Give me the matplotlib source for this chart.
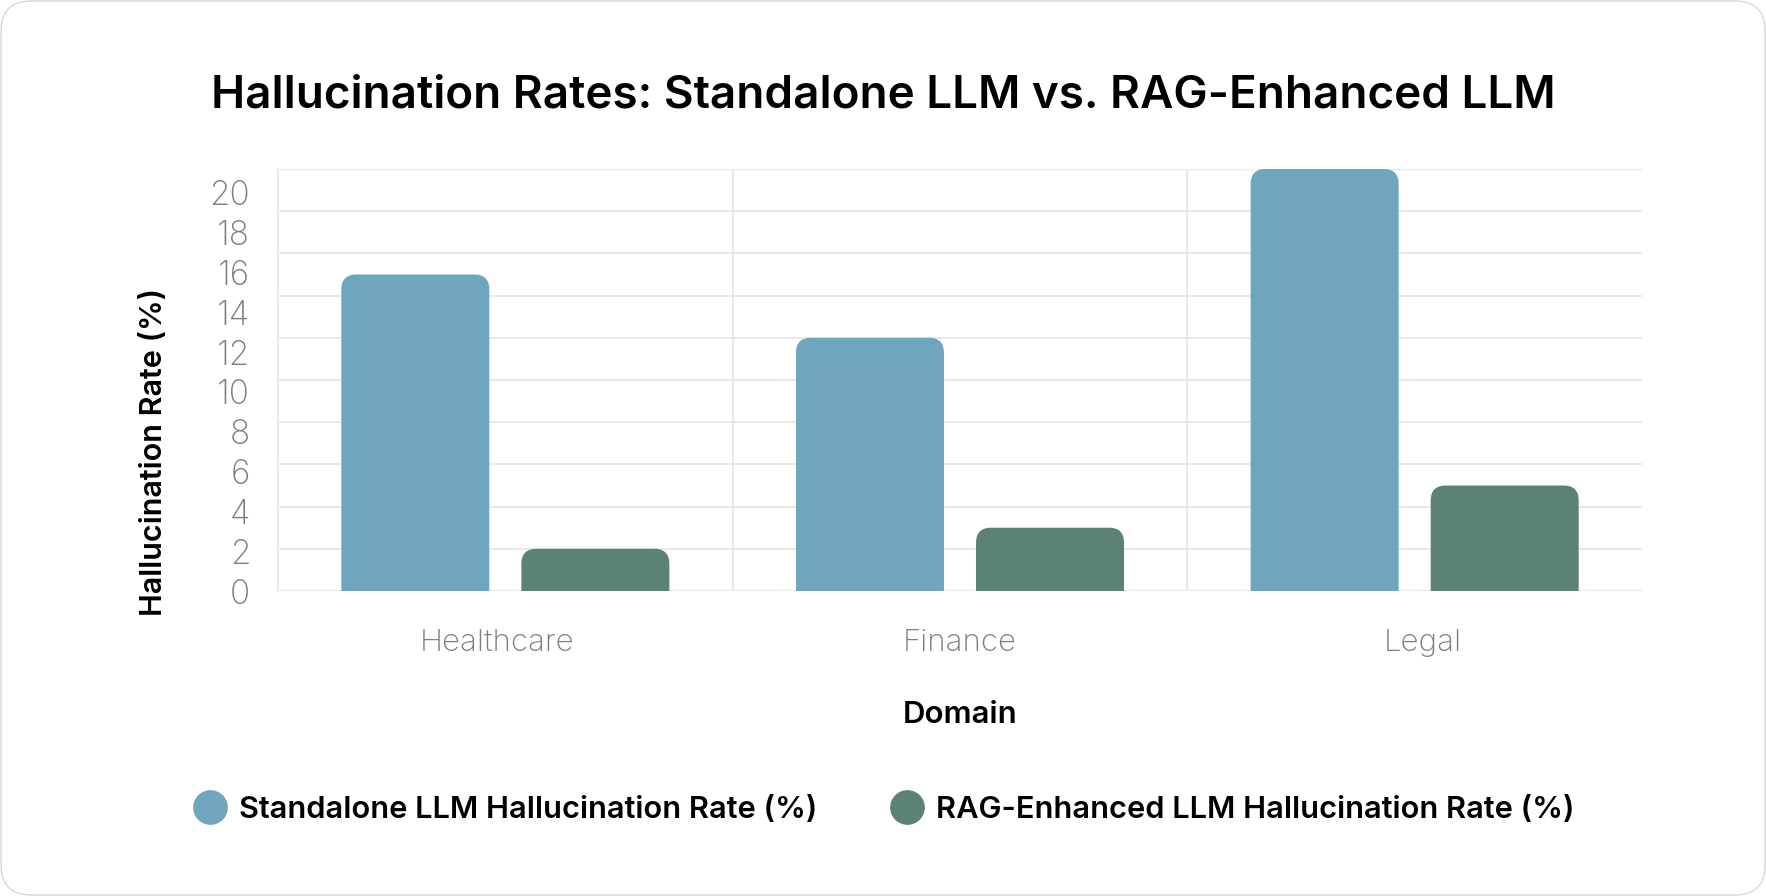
import matplotlib
matplotlib.use("Agg")
import matplotlib.pyplot as plt
import numpy as np
from matplotlib.patches import FancyBboxPatch, PathPatch
from matplotlib.path import Path

# data
domains = ["Healthcare", "Finance", "Legal"]
standalone = [15, 12, 20]
rag = [2, 3, 5]
series_names = ["Standalone LLM Hallucination Rate (%)", "RAG-Enhanced LLM Hallucination Rate (%)"]
y_ticks = [0, 2, 4, 6, 8, 10, 12, 14, 16, 18, 20]

BLUE = "#6FA5BD"
GREEN = "#5C8275"
GRID = "#E9E9E9"
TICK = "#7E7E7E"

plt.rcParams["font.family"] = ["Inter", "DejaVu Sans"]

W, H, DPI = 1766, 896, 100
fig = plt.figure(figsize=(W / DPI, H / DPI), dpi=DPI)
fig.patch.set_facecolor("white")

# rounded card border
fig.patches.append(FancyBboxPatch((1, 1), W - 2, H - 2, boxstyle="round,pad=0,rounding_size=30",
                                  transform=None, facecolor="white", edgecolor="#D8D8D8",
                                  linewidth=1, zorder=-10))

rect = [278 / W, 1 - 591 / H, (1642 - 278) / W, (591 - 169) / H]
ax = fig.add_axes(rect)
ax.set_facecolor("white")

x = np.arange(len(domains))
offset, width = 0.198, 0.3255
b1 = ax.bar(x - offset, standalone, width, color=BLUE, zorder=3)
b2 = ax.bar(x + offset, rag, width, color=GREEN, zorder=3)

ax.set_xlim(-0.5, len(domains) - 0.5)
ax.set_ylim(0, 20)


def round_top(rect, color, r_px=15):
    # swap the plain rectangle for one with rounded top corners
    x0, y0 = rect.get_x(), rect.get_y()
    x1, y1 = x0 + rect.get_width(), y0 + rect.get_height()
    bbox = ax.get_window_extent()
    rx = r_px * (ax.get_xlim()[1] - ax.get_xlim()[0]) / bbox.width
    ry = r_px * (ax.get_ylim()[1] - ax.get_ylim()[0]) / bbox.height
    verts = [(x0, y0), (x0, y1 - ry), (x0, y1), (x0 + rx, y1), (x1 - rx, y1),
             (x1, y1), (x1, y1 - ry), (x1, y0), (x0, y0)]
    codes = [Path.MOVETO, Path.LINETO, Path.CURVE3, Path.CURVE3, Path.LINETO,
             Path.CURVE3, Path.CURVE3, Path.LINETO, Path.CLOSEPOLY]
    rect.set_visible(False)
    ax.add_patch(PathPatch(Path(verts, codes), facecolor=color, edgecolor="none", zorder=3))


for bars, c in ((b1, BLUE), (b2, GREEN)):
    for r in bars:
        round_top(r, c)

# grid
ax.set_yticks(y_ticks)
ax.set_xticks(x)
ax.set_xticks(x[:-1] + 0.5, minor=True)
ax.grid(axis="y", color=GRID, linewidth=1.5, zorder=0)
ax.grid(axis="x", which="minor", color=GRID, linewidth=1.5, zorder=0)
for s in ("top", "right", "bottom"):
    ax.spines[s].set_visible(False)
ax.spines["left"].set_color(GRID)
ax.spines["left"].set_linewidth(1.5)
ax.axhline(20, color=GRID, linewidth=1.5, zorder=0)
ax.axhline(0, color=GRID, linewidth=1.5, zorder=0)
ax.tick_params(axis="both", which="both", length=0, labelleft=False, labelbottom=False)

# tick labels sit on their own overlay: in the original they are spaced a bit
# differently from the gridlines
lab = fig.add_axes(rect, frameon=False)
lab.patch.set_visible(False)
lab.set_ylim(0, 21.2)
lab.set_xlim(-0.4725, 2.474)
lab.set_yticks(y_ticks)
lab.set_xticks(x)
lab.set_xticklabels(domains)
lab.tick_params(axis="both", length=0)
lab.tick_params(axis="y", labelsize=24, labelcolor=TICK, pad=20)
lab.tick_params(axis="x", labelsize=22.5, labelcolor=TICK, pad=27)
for lbl in lab.get_yticklabels() + lab.get_xticklabels():
    lbl.set_fontweight("light")

lab.set_xlabel("Domain", fontsize=22.5, fontweight="semibold", labelpad=32)
lab.set_ylabel("Hallucination Rate (%)", fontsize=22, fontweight="semibold")
lab.yaxis.set_label_coords(-0.0806, 0.329)

fig.text(0.5, 1 - 95 / H, "Hallucination Rates: Standalone LLM vs. RAG-Enhanced LLM",
         ha="center", va="center", fontsize=33, fontweight="semibold")

handles = [plt.Line2D([], [], marker="o", linestyle="none", markersize=24, color=c) for c in (BLUE, GREEN)]
fig.legend(handles, series_names, loc="center", bbox_to_anchor=(0.5, 1 - 810 / H), ncol=2,
           frameon=False, prop={"weight": "semibold", "size": 22.2},
           handletextpad=0.35, columnspacing=2.3, handlelength=1.2)

fig.savefig("out.png", dpi=DPI)
